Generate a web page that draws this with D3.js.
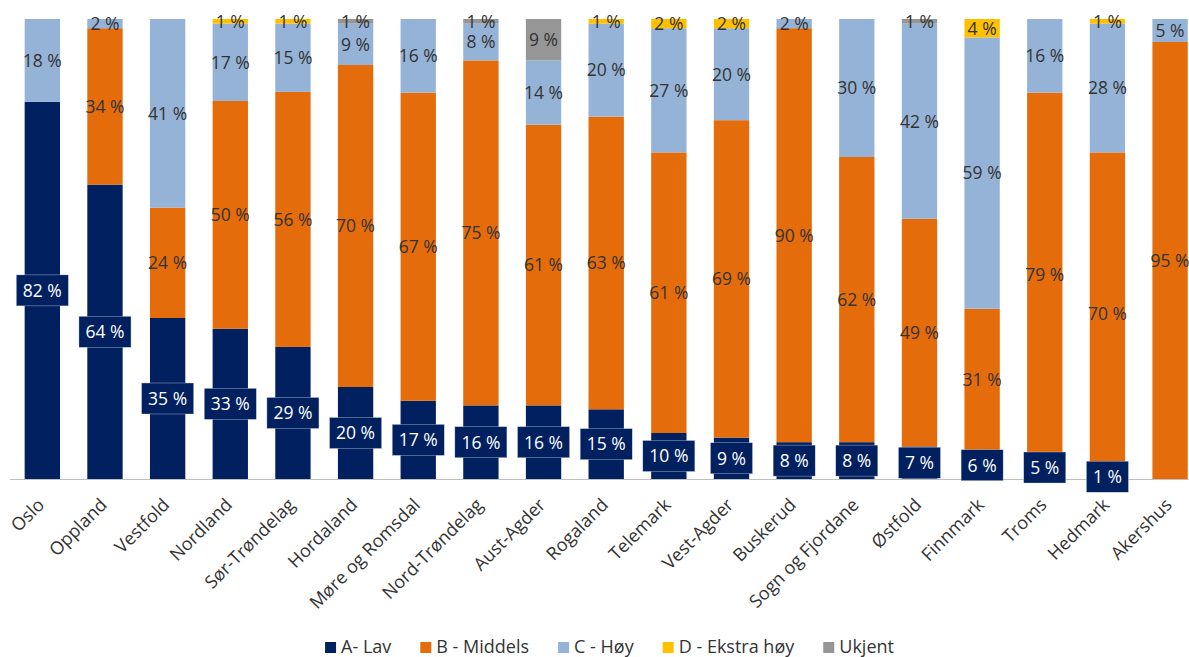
<!DOCTYPE html>
<html>
<head>
<meta charset="utf-8">
<script src="https://cdn.jsdelivr.net/npm/d3@7"></script>
<style>
  html, body { margin: 0; padding: 0; background: #fff; }
  svg { display: block; }
  text { font-family: "Open Sans", "DejaVu Sans", sans-serif; }
</style>
</head>
<body>
<svg id="chart" width="1189" height="657"></svg>
<script>
const categories = ["Oslo","Oppland","Vestfold","Nordland","Sør-Trøndelag","Hordaland","Møre og Romsdal","Nord-Trøndelag","Aust-Agder","Rogaland","Telemark","Vest-Agder","Buskerud","Sogn og Fjordane","Østfold","Finnmark","Troms","Hedmark","Akershus"];
const lav     = [82,64,35,33,29,20,17,16,16,15,10, 9, 8, 8, 7, 6, 5, 1, 0];
const middels = [ 0,34,24,50,56,70,67,75,61,63,61,69,90,62,49,31,79,70,95];
const hoy     = [18, 2,41,17,15, 9,16, 8,14,20,27,20, 2,30,42,59,16,28, 5];
const ekstra  = [ 0, 0, 0, 1, 1, 0, 0, 0, 0, 1, 2, 2, 0, 0, 0, 4, 0, 1, 0];
const ukjent  = [ 0, 0, 0, 0, 0, 1, 0, 1, 9, 0, 0, 0, 0, 0, 1, 0, 0, 0, 0];
const seriesNames = ["A- Lav","B - Middels","C - Høy","D - Ekstra høy","Ukjent"];
const seriesColors = ["#002060","#E46C0A","#95B3D7","#FFC000","#969696"];

const svg = d3.select("#chart");
const keys = ["lav","middels","hoy","ekstra","ukjent"];
const table = categories.map((c, i) => ({
  cat: c, lav: lav[i], middels: middels[i], hoy: hoy[i], ekstra: ekstra[i], ukjent: ukjent[i]
}));
const stack = d3.stack().keys(keys).offset(d3.stackOffsetExpand);
const layers = stack(table);

const x = d3.scaleBand().domain(categories).range([11, 1201.4]).paddingInner(0.436).paddingOuter(0.218);
const y = d3.scaleLinear().domain([0, 1]).range([479, 19]);

const g = svg.append("g");
layers.forEach((layer, li) => {
  g.selectAll(null).data(layer).enter().append("rect")
    .attr("x", d => x(d.data.cat))
    .attr("width", x.bandwidth())
    .attr("y", d => y(d[1]))
    .attr("height", d => Math.max(0, y(d[0]) - y(d[1])))
    .attr("fill", seriesColors[li]);
});

// axis line
svg.append("line").attr("x1", 10).attr("x2", 1189).attr("y1", 479.5).attr("y2", 479.5)
  .attr("stroke", "#BFBFBF").attr("stroke-width", 1.2);

// value labels
const labelG = svg.append("g");
layers.forEach((layer, li) => {
  const key = keys[li];
  layer.forEach((d, i) => {
    const v = table[i][key];
    if (!v) return;
    const cx = x(d.data.cat) + x.bandwidth() / 2;
    const cy = (y(d[0]) + y(d[1])) / 2;
    const t = labelG.append("text")
      .attr("x", cx).attr("y", cy).attr("dy", "0.36em")
      .attr("text-anchor", "middle")
      .attr("font-size", 17.5)
      .attr("fill", li === 0 ? "#ffffff" : "#333333")
      .text(v + " %");
    if (li === 0) {
      const w = t.node().getComputedTextLength() + 13;
      labelG.insert("rect", () => t.node())
        .attr("x", cx - w / 2).attr("y", cy - 15.5)
        .attr("width", w).attr("height", 31)
        .attr("fill", seriesColors[0])
        .attr("stroke", "#c9d1df").attr("stroke-width", 0.4);
    }
  });
});

// category labels
const xAxis = svg.append("g");
categories.forEach(c => {
  const cx = x(c) + x.bandwidth() / 2;
  xAxis.append("text")
    .attr("transform", `translate(${cx + 3},${506}) rotate(-45)`)
    .attr("text-anchor", "end")
    .attr("font-size", 18)
    .attr("fill", "#333333")
    .text(c);
});

// legend
const legend = svg.append("g");
let lx = 0;
const items = [];
seriesNames.forEach((name, i) => {
  const it = legend.append("g");
  it.append("rect").attr("x", 0).attr("y", 642).attr("width", 11).attr("height", 11).attr("fill", seriesColors[i]);
  const t = it.append("text").attr("x", 16).attr("y", 653).attr("font-size", 18).attr("fill", "#333333").text(name);
  const w = 16 + t.node().getComputedTextLength();
  items.push({ it, w });
});
const gap = 29;
const total = d3.sum(items, d => d.w) + gap * (items.length - 1);
lx = 609.5 - total / 2;
items.forEach(d => { d.it.attr("transform", `translate(${lx},0)`); lx += d.w + gap; });
</script>
</body>
</html>
